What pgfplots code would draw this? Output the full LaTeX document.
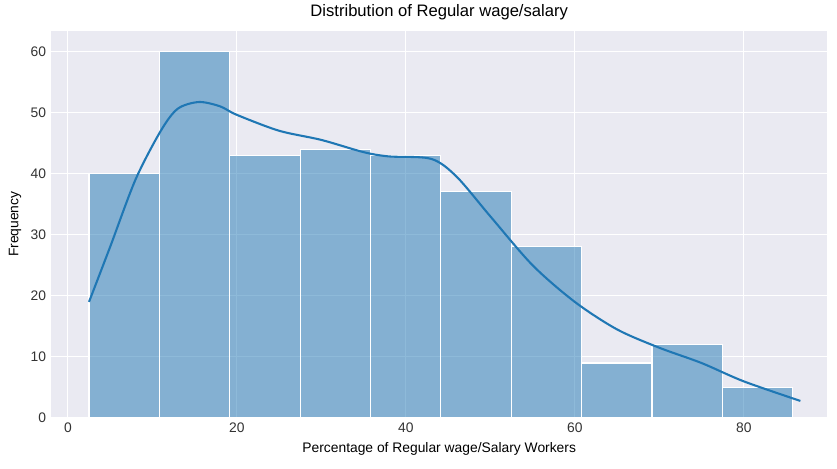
\documentclass[border=0pt]{standalone}
\usepackage{pgfplots}
\pgfplotsset{compat=1.18}
\usepackage{fontspec}
\setmainfont{Liberation Sans}
\definecolor{bg}{HTML}{EAEAF2}
\definecolor{sb}{HTML}{1F77B4}
\begin{document}
\begin{tikzpicture}
\path (-51*0.72bp,-50*0.72bp) rectangle (786*0.72bp,415*0.72bp);
\begin{axis}[
  scale only axis, width=559bp, height=279bp,
  xmin=-2, xmax=89.9, ymin=0, ymax=63.4,
  axis background/.style={fill=bg},
  axis line style={draw=none},
  grid=major, major grid style={white, line width=0.8pt},
  tick style={draw=none},
  xtick={0,20,40,60,80}, ytick={0,10,20,30,40,50,60},
  /pgf/number format/assume math mode=true,
  ticklabel style={font=\fontsize{10}{12}\selectfont, text=black!80},
  xlabel={Percentage of Regular wage/Salary Workers},
  ylabel={Frequency},
  label style={font=\fontsize{10}{12}\selectfont},
  title={Distribution of Regular wage/salary},
  title style={font=\fontsize{12}{14}\selectfont, yshift=-2pt},
]
\addplot[ybar interval, fill=sb, fill opacity=0.5, draw=white, line width=0.8pt] coordinates {
(2.5,40)(10.83,60)(19.16,43)(27.49,44)(35.82,43)(44.15,37)(52.48,28)(60.81,9)(69.14,12)(77.47,5)(85.8,5)};
\addplot[sb, line width=1.5pt, smooth, tension=0.5] coordinates {
(2.5,19)(5,28)(8,39)(11,47)(13,50.6)(15.5,51.7)(18,51)(20,49.6)(25,47)(30,45.5)(35,43.5)(38,42.8)(43,42.4)(46,39.5)(50,33)(55,25)(60,19)(65,14.5)(70,11.5)(75,9)(80,6)(86.7,2.8)};
\end{axis}
\end{tikzpicture}
\end{document}
